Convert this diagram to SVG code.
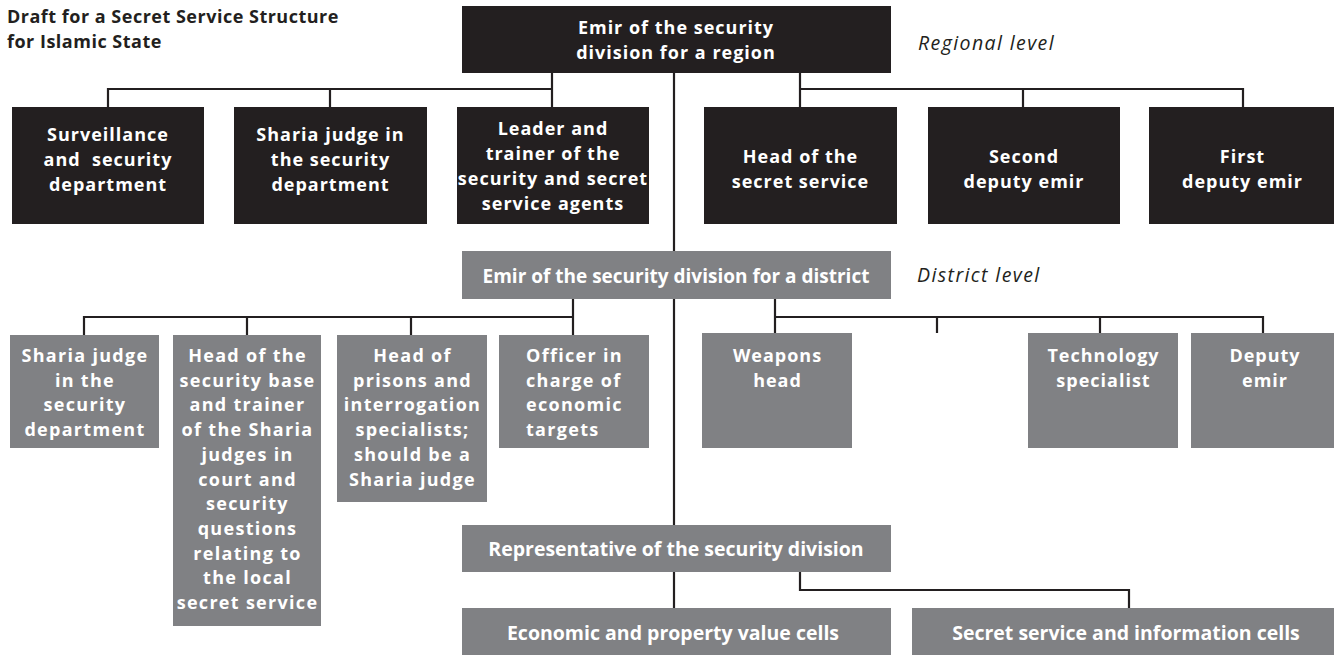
<svg xmlns="http://www.w3.org/2000/svg" width="1334" height="655" viewBox="0 0 1334 655">
<style>
.bk{fill:#231f20}
.gr{fill:#808184}
.t{font-family:"Open Sans","Liberation Sans",sans-serif;font-weight:700;font-size:18px;letter-spacing:1px;fill:#fff;text-anchor:middle}
.tb{letter-spacing:1.3px}
.tm{font-size:19px;letter-spacing:0}
.ts{font-size:19.5px;letter-spacing:0}
.tl{text-anchor:start}
.ttl{font-family:"Open Sans","Liberation Sans",sans-serif;font-weight:700;font-size:18px;letter-spacing:0.5px;fill:#231f20}
.lvl{font-family:"Open Sans","Liberation Sans",sans-serif;font-style:italic;font-size:19.5px;letter-spacing:1.4px;fill:#231f20}
.ln{stroke:#231f20;stroke-width:2.2;fill:none}
</style>
<rect width="1334" height="655" fill="#fff"/>
<g id="title">
<text class="ttl" x="7" y="23">Draft for a Secret Service Structure</text>
<text class="ttl" x="7" y="48">for Islamic State</text>
</g>
<g id="labels">
<text class="lvl" x="918" y="50">Regional level</text>
<text class="lvl" x="917" y="282">District level</text>
</g>
<g id="connectors">
<path class="ln" d="M674 73V608"/>
<path class="ln" d="M552 73V89M108 107V89H552V107M330 89V107"/>
<path class="ln" d="M800 73V107M800 89H1243V107M1023 89V107"/>
<path class="ln" d="M573 299V335M84 335V317H573M247 317V335M411 317V335"/>
<path class="ln" d="M775 299V333M775 317H1263V333M937 317V333M1100 317V333"/>
<path class="ln" d="M800 572V590H1129V608"/>
</g>
<g id="n-region">
<rect class="bk" x="462" y="6" width="429" height="67"/>
<text class="t" x="676" y="34">Emir of the security</text>
<text class="t" x="676" y="59">division for a region</text>
</g>
<g id="n-surveillance">
<rect class="bk" x="12" y="107" width="192" height="117"/>
<text class="t" x="108" y="141">Surveillance</text>
<text class="t" x="108" y="166" xml:space="preserve">and  security</text>
<text class="t" x="108" y="191">department</text>
</g>
<g id="n-sharia-r">
<rect class="bk" x="234" y="107" width="193" height="117"/>
<text class="t" x="330.5" y="141">Sharia judge in</text>
<text class="t" x="330.5" y="166">the security</text>
<text class="t" x="330.5" y="191">department</text>
</g>
<g id="n-leader">
<rect class="bk" x="457" y="107" width="192" height="117"/>
<text class="t" x="553" y="135">Leader and</text>
<text class="t" x="553" y="160">trainer of the</text>
<text class="t" x="553" y="185">security and secret</text>
<text class="t" x="553" y="210">service agents</text>
</g>
<g id="n-head-secret">
<rect class="bk" x="704" y="107" width="193" height="117"/>
<text class="t" x="800.5" y="163">Head of the</text>
<text class="t" x="800.5" y="188">secret service</text>
</g>
<g id="n-second-deputy">
<rect class="bk" x="928" y="107" width="192" height="117"/>
<text class="t" x="1024" y="163">Second</text>
<text class="t" x="1024" y="188">deputy emir</text>
</g>
<g id="n-first-deputy">
<rect class="bk" x="1149" y="107" width="185" height="117"/>
<text class="t" x="1242.5" y="163">First</text>
<text class="t" x="1242.5" y="188">deputy emir</text>
</g>
<g id="n-district">
<rect class="gr" x="462" y="251" width="429" height="48"/>
<text class="t tm" x="676" y="283">Emir of the security division for a district</text>
</g>
<g id="n-sharia-d">
<rect class="gr" x="10" y="335" width="149" height="113"/>
<text class="t tb" x="85" y="362">Sharia judge</text>
<text class="t tb" x="85" y="386.7">in the</text>
<text class="t tb" x="85" y="411.4">security</text>
<text class="t tb" x="85" y="436.1">department</text>
</g>
<g id="n-security-base">
<rect class="gr" x="173" y="335" width="148" height="291"/>
<text class="t tb" x="247.5" y="362">Head of the</text>
<text class="t tb" x="247.5" y="386.7">security base</text>
<text class="t tb" x="247.5" y="411.4">and trainer</text>
<text class="t tb" x="247.5" y="436.1">of the Sharia</text>
<text class="t tb" x="247.5" y="460.8">judges in</text>
<text class="t tb" x="247.5" y="485.5">court and</text>
<text class="t tb" x="247.5" y="510.2">security</text>
<text class="t tb" x="247.5" y="534.9">questions</text>
<text class="t tb" x="247.5" y="559.6">relating to</text>
<text class="t tb" x="247.5" y="584.3">the local</text>
<text class="t tb" x="247.5" y="609">secret service</text>
</g>
<g id="n-prisons">
<rect class="gr" x="337" y="335" width="150" height="167"/>
<text class="t tb" x="412.5" y="362">Head of</text>
<text class="t tb" x="412.5" y="386.7">prisons and</text>
<text class="t tb" x="412.5" y="411.4">interrogation</text>
<text class="t tb" x="412.5" y="436.1">specialists;</text>
<text class="t tb" x="412.5" y="460.8">should be a</text>
<text class="t tb" x="412.5" y="485.5">Sharia judge</text>
</g>
<g id="n-officer">
<rect class="gr" x="499" y="335" width="150" height="113"/>
<text class="t tb tl" x="526" y="362">Officer in</text>
<text class="t tb tl" x="526" y="386.7">charge of</text>
<text class="t tb tl" x="526" y="411.4">economic</text>
<text class="t tb tl" x="526" y="436.1">targets</text>
</g>
<g id="n-weapons">
<rect class="gr" x="702" y="333" width="150" height="115"/>
<text class="t" x="777.5" y="362">Weapons</text>
<text class="t" x="777.5" y="387">head</text>
</g>
<g id="n-technology">
<rect class="gr" x="1028" y="333" width="150" height="115"/>
<text class="t" x="1103.5" y="362">Technology</text>
<text class="t" x="1103.5" y="387">specialist</text>
</g>
<g id="n-deputy">
<rect class="gr" x="1191" y="333" width="143" height="115"/>
<text class="t" x="1265" y="362">Deputy</text>
<text class="t" x="1265" y="387">emir</text>
</g>
<g id="n-representative">
<rect class="gr" x="462" y="525" width="429" height="47"/>
<text class="t ts" x="676" y="556">Representative of the security division</text>
</g>
<g id="n-economic">
<rect class="gr" x="462" y="608" width="429" height="47"/>
<text class="t ts" x="673" y="640">Economic and property value cells</text>
</g>
<g id="n-secret-cells">
<rect class="gr" x="912" y="608" width="422" height="47"/>
<text class="t ts" x="1126" y="640">Secret service and information cells</text>
</g>
</svg>
